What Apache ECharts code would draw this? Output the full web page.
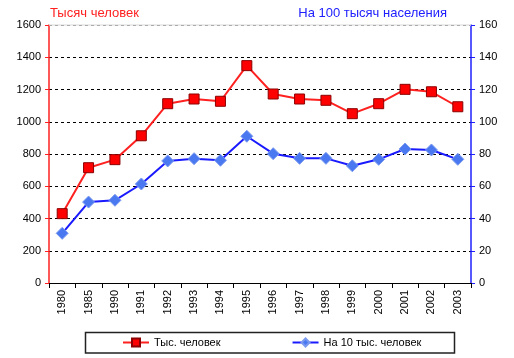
<!DOCTYPE html>
<html><head><meta charset="utf-8">
<script src="https://cdn.jsdelivr.net/npm/echarts@6/dist/echarts.min.js"></script>
<style>html,body{margin:0;padding:0;background:#fff}#c{width:514px;height:358px}</style>
</head><body><div id="c"></div>
<script>
const years = ['1980','1985','1990','1991','1992','1993','1994','1995','1996','1997','1998','1999','2000','2001','2002','2003'];
const thousands = [430,715,765,913,1112,1141,1127,1348,1172,1141,1133,1050,1112,1201,1186,1093];
const per100k = [30.8,50.2,51.3,61.4,75.7,77.1,76.1,91.0,80.2,77.3,77.3,72.7,76.7,83.1,82.5,76.7];
const leftTicks = [0,200,400,600,800,1000,1200,1400,1600];
const rightTicks = [0,20,40,60,80,100,120,140,160];
const seriesNames = ['Тыс. человек','На 10 тыс. человек'];
const leftTitle = 'Тысяч человек';
const rightTitle = 'На 100 тысяч населения';

const font = 'Arial, "Liberation Sans", sans-serif';
const chart = echarts.init(document.getElementById('c'), null, {renderer:'canvas'});
chart.setOption({
  animation:false,
  backgroundColor:'#fff',
  textStyle:{fontFamily:font},
  grid:{left:49,right:43,top:25,bottom:75},
  graphic:[
    {type:'text',left:50,top:7,style:{text:leftTitle,fill:'#ff2020',font:'13px '+font}},
    {type:'text',right:67,top:7,style:{text:rightTitle,fill:'#2020ff',font:'13px '+font}},
    {type:'rect',shape:{x:85.5,y:332.5,width:369,height:20.5},style:{fill:'none',stroke:'#222',lineWidth:1.5}}
  ],
  legend:{
    left:122,top:337,padding:0,itemGap:71,itemWidth:26,itemHeight:10,
    textStyle:{fontSize:11,color:'#000',fontFamily:font},
    data:seriesNames
  },
  xAxis:{
    type:'category',data:years,boundaryGap:true,
    axisLine:{lineStyle:{color:'#000',width:1}},
    axisTick:{show:true,length:5,lineStyle:{color:'#000'}},
    axisLabel:{rotate:90,fontSize:11,color:'#000',margin:7,interval:0}
  },
  yAxis:[
    {type:'value',min:0,max:1600,interval:200,position:'left',
     axisLine:{show:true,lineStyle:{color:'#ff2020',width:1.5}},
     axisTick:{show:true,length:4,lineStyle:{color:'#ff2020'}},
     axisLabel:{fontSize:11,color:'#000',margin:8,
       formatter:v=>leftTicks.indexOf(v)>=0?String(v):''},
     splitLine:{show:true,lineStyle:{color:'#000',type:[3,3],width:1}}},
    {type:'value',min:0,max:160,interval:20,position:'right',
     axisLine:{show:true,lineStyle:{color:'#2020ff',width:1.5}},
     axisTick:{show:true,length:4,lineStyle:{color:'#2020ff'}},
     axisLabel:{fontSize:11,color:'#000',margin:8,
       formatter:v=>rightTicks.indexOf(v)>=0?String(v):''},
     splitLine:{show:false}}
  ],
  series:[
    {name:seriesNames[0],type:'line',yAxisIndex:0,data:thousands,
     symbol:'rect',symbolSize:10,
     lineStyle:{color:'#ff2020',width:2},
     itemStyle:{color:'#ff0000',borderColor:'#8b0000',borderWidth:1},
     markLine:{silent:true,symbol:'none',label:{show:false},
       lineStyle:{color:'#e4e4e4',type:'solid',width:1.5},data:[{yAxis:1600}]},
     z:3},
    {name:seriesNames[1],type:'line',yAxisIndex:1,data:per100k,
     symbol:'diamond',symbolSize:12,
     lineStyle:{color:'#1a1aff',width:2},
     itemStyle:{color:'#4a78f0',borderColor:'#7a9af0',borderWidth:1},
     z:2}
  ]
});
</script></body></html>
